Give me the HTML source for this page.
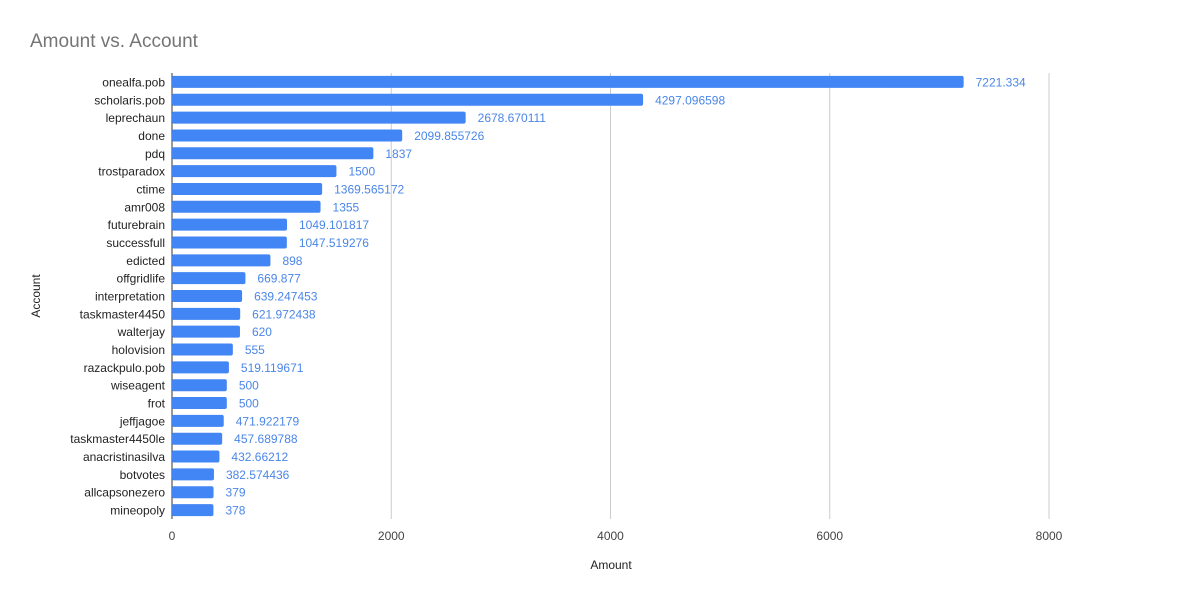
<!DOCTYPE html>
<html><head><meta charset="utf-8"><style>
body{margin:0;background:#fff;font-family:"Liberation Sans",Arial,sans-serif;}
svg text{font-family:"Liberation Sans",Arial,sans-serif;}
</style></head><body>
<svg id="chart" width="1185" height="600" xmlns="http://www.w3.org/2000/svg">
<rect width="1185" height="600" fill="#fff"/>
<text x="30" y="47" font-size="19" fill="#757575">Amount vs. Account</text>
<g id="grid"></g>
<g id="bars"></g>
<g id="ylabels"></g>
<g id="xticks"></g>
<text x="611" y="569" font-size="12" fill="#222" text-anchor="middle">Amount</text>
<text x="0" y="0" font-size="12" fill="#222" text-anchor="middle" transform="translate(40,296) rotate(-90)">Account</text>
</svg>
<script>
const categories=["onealfa.pob","scholaris.pob","leprechaun","done","pdq","trostparadox","ctime","amr008","futurebrain","successfull","edicted","offgridlife","interpretation","taskmaster4450","walterjay","holovision","razackpulo.pob","wiseagent","frot","jeffjagoe","taskmaster4450le","anacristinasilva","botvotes","allcapsonezero","mineopoly"];
const values=[7221.334,4297.096598,2678.670111,2099.855726,1837,1500,1369.565172,1355,1049.101817,1047.519276,898,669.877,639.247453,621.972438,620,555,519.119671,500,500,471.922179,457.689788,432.66212,382.574436,379,378];
const valueLabels=["7221.334","4297.096598","2678.670111","2099.855726","1837","1500","1369.565172","1355","1049.101817","1047.519276","898","669.877","639.247453","621.972438","620","555","519.119671","500","500","471.922179","457.689788","432.66212","382.574436","379","378"];
const xTicks=[0,2000,4000,6000,8000];
const xTickLabels=["0","2000","4000","6000","8000"];
const NS="http://www.w3.org/2000/svg";
const x0=172,x1=1049,xMax=8000,plotTop=73,plotBottom=519;
const xs=v=>x0+(x1-x0)*v/xMax;
const step=(plotBottom-plotTop)/categories.length;
const yc=i=>plotTop+step*(i+0.5);
function mk(t,a,p){const e=document.createElementNS(NS,t);for(const k in a)e.setAttribute(k,a[k]);p.appendChild(e);return e;}
const grid=document.getElementById('grid'),bars=document.getElementById('bars'),yl=document.getElementById('ylabels'),xt=document.getElementById('xticks');
xTicks.forEach((t,i)=>{
 const l=mk('line',{x1:xs(t),x2:xs(t),y1:plotTop,y2:plotBottom,stroke:i==0?'#333':'#ccc','stroke-width':1},grid);
 
 
 const tx=mk('text',{x:xs(t),y:540,'font-size':12,fill:'#444','text-anchor':'middle'},xt);
 tx.textContent=xTickLabels[i];
 
 
});
categories.forEach((c,i)=>{
 const y=yc(i);
 const r=mk('rect',{x:x0,y:y-6,width:xs(values[i])-x0,height:12,rx:2,fill:'#4285f4'},bars);
 
 
 const v=mk('text',{x:xs(values[i])+12,y:y+4.5,'font-size':12,fill:'#4a86e8'},bars);
 v.textContent=valueLabels[i];
 
 
 const t=mk('text',{x:165,y:y+4.5,'font-size':12,fill:'#222','text-anchor':'end'},yl);
 t.textContent=c;
 
 
});
</script>
</body></html>
